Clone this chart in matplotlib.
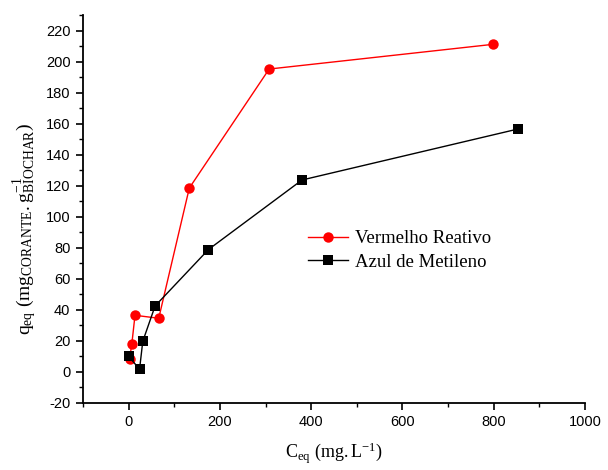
import matplotlib
matplotlib.use("Agg")
import matplotlib.pyplot as plt
from matplotlib.ticker import MultipleLocator

# Equilibrium adsorption data
ceq_vermelho = [2, 7, 14, 66, 133, 308, 798]
qeq_vermelho = [8.5, 18.0, 36.5, 34.6, 118.5, 195.2, 211.1]

ceq_azul = [0, 24, 31, 58, 175, 380, 854]
qeq_azul = [10.0, 1.8, 19.7, 42.5, 78.9, 123.7, 156.6]

series_labels = ["Vermelho Reativo", "Azul de Metileno"]

plt.rcParams["font.family"] = ["Liberation Sans", "DejaVu Sans"]
plt.rcParams["axes.unicode_minus"] = False
plt.rcParams["mathtext.fontset"] = "custom"
plt.rcParams["mathtext.rm"] = "Liberation Serif"
plt.rcParams["mathtext.it"] = "Liberation Serif"

fig = plt.figure(figsize=(6.08, 4.70), dpi=100)
ax = fig.add_axes([0.1365, 0.1426, 0.8255, 0.8254])

ax.plot(ceq_vermelho, qeq_vermelho, color="red", lw=1.0, marker="o",
        markersize=7.5, markeredgewidth=0, label=series_labels[0])
ax.plot(ceq_azul, qeq_azul, color="black", lw=1.0, marker="s",
        markersize=6.5, markeredgewidth=0, label=series_labels[1])

ax.set_xlim(-100, 1000)
ax.set_ylim(-20, 230)
ax.xaxis.set_major_locator(MultipleLocator(200))
ax.xaxis.set_minor_locator(MultipleLocator(100))
ax.yaxis.set_major_locator(MultipleLocator(20))
ax.yaxis.set_minor_locator(MultipleLocator(10))

for side in ("top", "right"):
    ax.spines[side].set_visible(False)
for side in ("left", "bottom"):
    ax.spines[side].set_linewidth(1.3)

ax.tick_params(which="major", direction="out", length=5, width=1.2,
               labelsize=10.5, pad=4)
ax.tick_params(which="minor", direction="out", length=3, width=1.0)

ax.set_xlabel(r"$\mathrm{C_{eq}\ (mg{.}L^{-1})}$", fontsize=13, labelpad=8)
ax.set_ylabel(r"$\mathrm{q_{eq}\ (mg_{CORANTE}{.}g^{-1}_{BIOCHAR})}$",
              fontsize=14)
ax.yaxis.set_label_coords(-0.088, 0.45)

ax.legend(loc="upper left", bbox_to_anchor=(0.43, 0.47), frameon=False,
          prop={"family": "Liberation Serif", "size": 13.5},
          handlelength=2.1, handletextpad=0.4, labelspacing=0.35,
          borderpad=0)

fig.savefig("out.png", dpi=100)
